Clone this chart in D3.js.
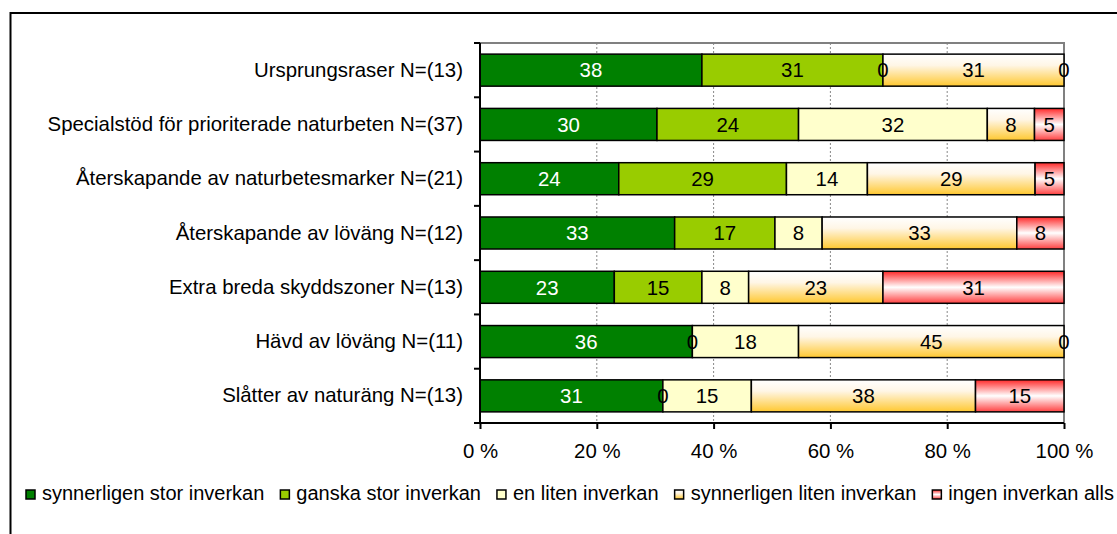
<!DOCTYPE html>
<html>
<head>
<meta charset="utf-8">
<script src="https://cdn.jsdelivr.net/npm/d3@7"></script>
<style>
    body { margin: 0; background: #fff; }
    svg { display: block; font-family: "Liberation Sans", Arial, sans-serif; }
</style>
</head>
<body>
<div id="chart"></div>
<script>
// categories (top to bottom)
const categories = [
    'Ursprungsraser N=(13)',
    'Specialstöd för prioriterade naturbeten N=(37)',
    'Återskapande av naturbetesmarker N=(21)',
    'Återskapande av löväng N=(12)',
    'Extra breda skyddszoner N=(13)',
    'Hävd av löväng N=(11)',
    'Slåtter av naturäng N=(13)'
];

// series names (legend order)
const seriesNames = [
    'synnerligen stor inverkan',
    'ganska stor inverkan',
    'en liten inverkan',
    'synnerligen liten inverkan',
    'ingen inverkan alls'
];

// series values, percent per category
const synnerligenStor  = [38, 30, 24, 33, 23, 36, 31];
const ganskaStor       = [31, 24, 29, 17, 15, 0, 0];
const enLiten          = [0, 32, 14, 8, 8, 18, 15];
const synnerligenLiten = [31, 8, 29, 33, 23, 45, 38];
const ingenInverkan    = [0, 5, 5, 8, 31, 0, 15];

const xTicks = [0, 20, 40, 60, 80, 100];

const seriesValues = [synnerligenStor, ganskaStor, enLiten, synnerligenLiten, ingenInverkan];

var table = categories.map((c, i) => {
    var row = { category: c };
    seriesNames.forEach((s, j) => { row[s] = seriesValues[j][i]; });
    return row;
});

var width = 1117, height = 534;
var plotLeft = 480, plotRight = 1064, plotTop = 43, plotBottom = 423;
var fontSize = '20.4px';

var svg = d3.select('#chart').append('svg')
    .attr('width', width)
    .attr('height', height);

// gradients
var defs = svg.append('defs');
var gOrange = defs.append('linearGradient').attr('id', 'gradOrange')
    .attr('x1', 0).attr('y1', 0).attr('x2', 0).attr('y2', 1);
gOrange.append('stop').attr('offset', '0%').attr('stop-color', '#ffffff');
gOrange.append('stop').attr('offset', '35%').attr('stop-color', '#fff6e6');
gOrange.append('stop').attr('offset', '100%').attr('stop-color', '#ffc830');

var gRed = defs.append('linearGradient').attr('id', 'gradRed')
    .attr('x1', 0).attr('y1', 0).attr('x2', 0).attr('y2', 1);
gRed.append('stop').attr('offset', '0%').attr('stop-color', '#ff2a2a');
gRed.append('stop').attr('offset', '50%').attr('stop-color', '#ffffff');
gRed.append('stop').attr('offset', '100%').attr('stop-color', '#ff4040');

var fills = ['#008000', '#99cc00', '#ffffcc', 'url(#gradOrange)', 'url(#gradRed)'];
var textColors = ['#ffffff', '#000', '#000', '#000', '#000'];
var color = d3.scaleOrdinal().domain(seriesNames).range(fills);

// outer chart border
svg.append('rect')
    .attr('x', 10.5).attr('y', 13)
    .attr('width', 1200).attr('height', 600)
    .attr('fill', 'none')
    .attr('stroke', '#000')
    .attr('stroke-width', 2);

var xScale = d3.scaleLinear().domain([0, 1]).range([plotLeft, plotRight]);
var yScale = d3.scaleBand().domain(categories).range([plotTop, plotBottom])
    .paddingInner(0.41).paddingOuter(0.205);

// grid lines
svg.append('g')
    .selectAll('line')
    .data(xTicks.slice(1, -1))
    .join('line')
    .attr('x1', d => xScale(d / 100)).attr('x2', d => xScale(d / 100))
    .attr('y1', plotTop).attr('y2', plotBottom)
    .attr('stroke', '#888')
    .attr('stroke-width', 1)
    .attr('stroke-dasharray', '2,2');

// plot area border (top and right)
svg.append('path')
    .attr('d', `M${plotLeft},${plotTop}H${plotRight}V${plotBottom}`)
    .attr('fill', 'none')
    .attr('stroke', '#808080')
    .attr('stroke-width', 2);

// bars
var stackedData = d3.stack().keys(seriesNames).offset(d3.stackOffsetExpand)(table);

var layers = svg.append('g')
    .selectAll('g')
    .data(stackedData)
    .join('g')
    .attr('fill', d => color(d.key));

layers.selectAll('rect')
    .data(d => d)
    .join('rect')
    .attr('x', d => xScale(d[0]))
    .attr('y', d => yScale(d.data.category))
    .attr('width', d => xScale(d[1]) - xScale(d[0]))
    .attr('height', yScale.bandwidth())
    .attr('stroke', '#000')
    .attr('stroke-width', 1.5);

// value labels
stackedData.forEach((layer, j) => {
    svg.append('g')
        .selectAll('text')
        .data(layer)
        .join('text')
        .attr('x', d => xScale((d[0] + d[1]) / 2))
        .attr('y', d => yScale(d.data.category) + yScale.bandwidth() / 2)
        .attr('dy', '0.36em')
        .attr('text-anchor', 'middle')
        .attr('fill', textColors[j])
        .style('font-size', fontSize)
        .text(d => d.data[layer.key]);
});

// y axis
var yAxis = svg.append('g')
    .attr('transform', `translate(${plotLeft},0)`)
    .call(d3.axisLeft(yScale).tickSize(0).tickPadding(17));
yAxis.select('.domain').remove();
yAxis.selectAll('text').style('font-size', fontSize).attr('fill', '#000');

var step = yScale.step();
svg.append('g')
    .selectAll('line')
    .data(d3.range(categories.length + 1))
    .join('line')
    .attr('x1', plotLeft - 6).attr('x2', plotLeft)
    .attr('y1', i => plotTop + i * step).attr('y2', i => plotTop + i * step)
    .attr('stroke', '#000')
    .attr('stroke-width', 2);

svg.append('line')
    .attr('x1', plotLeft).attr('x2', plotLeft)
    .attr('y1', plotTop).attr('y2', plotBottom)
    .attr('stroke', '#000')
    .attr('stroke-width', 2);

// x axis
var xAxis = svg.append('g')
    .attr('transform', `translate(0,${plotBottom})`)
    .call(d3.axisBottom(d3.scaleLinear().domain([0, 100]).range([plotLeft, plotRight]))
        .tickValues(xTicks)
        .tickSize(6)
        .tickPadding(15)
        .tickFormat(d => d + ' %'));
xAxis.select('.domain').attr('stroke-width', 2).attr('d', `M${plotLeft},0H${plotRight}`);
xAxis.selectAll('.tick line').attr('stroke-width', 2);
xAxis.selectAll('text').style('font-size', fontSize).attr('fill', '#000');

// legend: squeezed between x=26 and x=1114
var legend = svg.append('g').attr('transform', 'translate(26,0)');
var items = seriesNames.map((s, j) => {
    var item = legend.append('g');
    item.append('rect')
        .attr('x', 0).attr('y', 490)
        .attr('width', 9).attr('height', 9)
        .attr('fill', fills[j])
        .attr('stroke', '#000')
        .attr('stroke-width', 1.5);
    var t = item.append('text')
        .attr('x', 16).attr('y', 500)
        .style('font-size', '20px')
        .text(s);
    return { g: item, w: 16 + t.node().getComputedTextLength() };
});
var total = d3.sum(items, d => d.w);
var gap = (1114 - 26 - total) / (items.length - 1);
var lx = 0;
items.forEach(d => {
    d.g.attr('transform', `translate(${lx},0)`);
    lx += d.w + gap;
});
</script>
</body>
</html>
